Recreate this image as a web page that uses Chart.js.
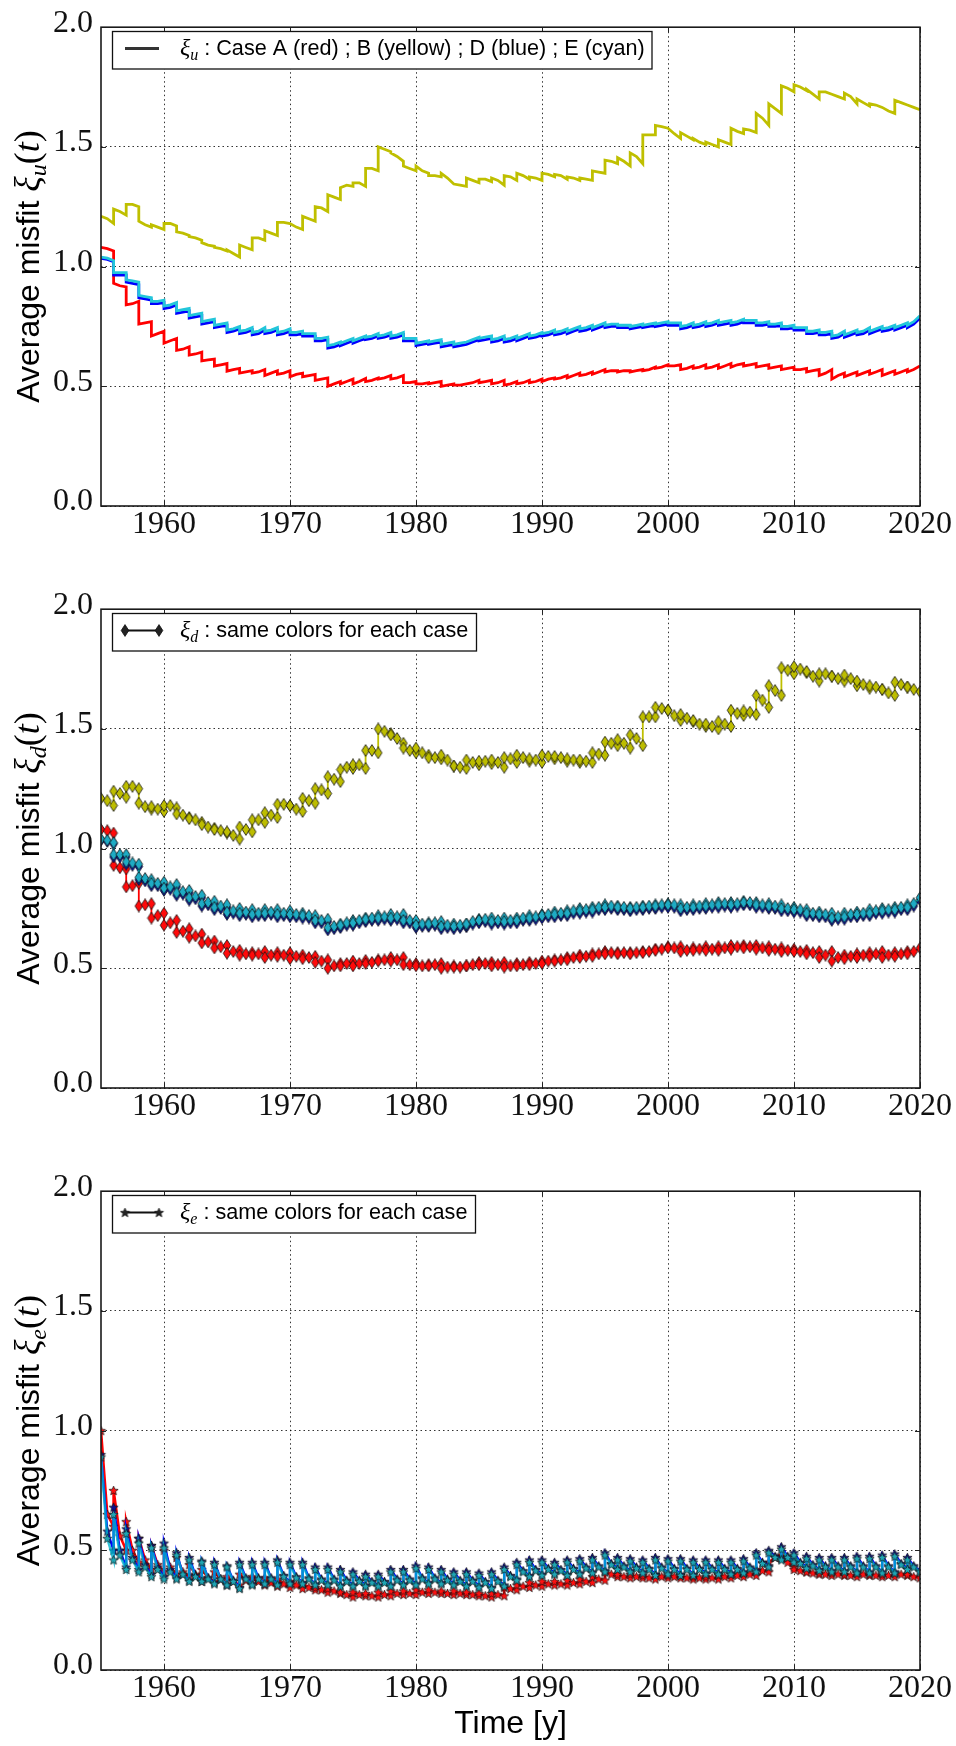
<!DOCTYPE html>
<html><head><meta charset="utf-8">
<script src="https://cdn.jsdelivr.net/npm/chart.js"></script>
<style>
html,body{margin:0;padding:0;background:#fff;}
#wrap{position:relative;width:956px;height:1746px;background:#fff;}
canvas{position:absolute;left:0;}
</style></head><body>
<div id="wrap">
<canvas id="c1" width="956" height="582" style="top:0px"></canvas>
<canvas id="c2" width="956" height="582" style="top:582px"></canvas>
<canvas id="c3" width="956" height="582" style="top:1164px"></canvas>
</div>
<script>
// ---------------- DATA ----------------
const analysisYears = [1955,1956,1957,1958,1959,1960,1961,1962,1963,1964,1965,1966,1967,1968,1969,1970,1971,1972,1973,1974,1975,1976,1977,1978,1979,1980,1981,1982,1983,1984,1985,1986,1987,1988,1989,1990,1991,1992,1993,1994,1995,1996,1997,1998,1999,2000,2001,2002,2003,2004,2005,2006,2007,2008,2009,2010,2011,2012,2013,2014,2015,2016,2017,2018,2019,2020];
const xTickValues = [1960,1970,1980,1990,2000,2010,2020];
const yTickValues = [0,0.5,1.0,1.5,2.0];

// Each series: per year 1955..2019 -> [after analysis, mid-year, just before next analysis]
// xi_u (also read identical for xi_d)
const xiU_A = [
1.08,1.075,1.065, 0.93,0.92,0.915, 0.84,0.845,0.855, 0.76,0.765,0.77, 0.71,0.72,0.73,
0.68,0.69,0.70, 0.65,0.655,0.665, 0.63,0.635,0.643, 0.606,0.61,0.614, 0.585,0.59,0.595,
0.563,0.57,0.575, 0.555,0.56,0.565, 0.555,0.56,0.57, 0.545,0.555,0.565, 0.55,0.555,0.565,
0.54,0.55,0.555, 0.54,0.545,0.55, 0.525,0.53,0.535, 0.50,0.51,0.52, 0.51,0.52,0.53,
0.51,0.52,0.533, 0.52,0.525,0.535, 0.53,0.535,0.545, 0.53,0.535,0.545, 0.515,0.515,0.52,
0.51,0.51,0.515, 0.51,0.515,0.52, 0.50,0.505,0.51, 0.505,0.505,0.51, 0.51,0.515,0.525,
0.515,0.52,0.525, 0.51,0.515,0.525, 0.505,0.51,0.52, 0.51,0.515,0.525, 0.515,0.52,0.53,
0.52,0.53,0.535, 0.53,0.535,0.545, 0.535,0.545,0.555, 0.545,0.55,0.56, 0.55,0.56,0.57,
0.56,0.565,0.565, 0.56,0.565,0.565, 0.56,0.565,0.57, 0.565,0.57,0.58, 0.575,0.58,0.59,
0.585,0.585,0.59, 0.57,0.575,0.585, 0.575,0.58,0.59, 0.575,0.58,0.59, 0.575,0.585,0.595,
0.58,0.59,0.595, 0.585,0.59,0.595, 0.58,0.585,0.59, 0.575,0.58,0.585, 0.57,0.575,0.58,
0.57,0.57,0.575, 0.56,0.565,0.57, 0.545,0.555,0.57, 0.53,0.545,0.555, 0.54,0.55,0.56,
0.545,0.555,0.565, 0.55,0.56,0.57, 0.545,0.555,0.565, 0.55,0.56,0.57, 0.56,0.57,0.585];

const xiU_B = [
1.21,1.20,1.18, 1.24,1.23,1.215, 1.26,1.26,1.25, 1.19,1.175,1.165, 1.175,1.165,1.155,
1.18,1.18,1.17, 1.145,1.14,1.13, 1.125,1.12,1.11, 1.10,1.09,1.085, 1.08,1.075,1.065,
1.07,1.055,1.04, 1.09,1.08,1.07, 1.12,1.12,1.11, 1.15,1.14,1.13, 1.185,1.185,1.18,
1.18,1.165,1.155, 1.21,1.20,1.19, 1.25,1.245,1.23, 1.30,1.29,1.28, 1.33,1.34,1.335,
1.35,1.35,1.335, 1.41,1.41,1.40, 1.50,1.49,1.48, 1.475,1.46,1.44, 1.42,1.41,1.40,
1.42,1.40,1.39, 1.38,1.38,1.375, 1.39,1.37,1.345, 1.345,1.34,1.335, 1.37,1.36,1.35,
1.365,1.365,1.355, 1.37,1.36,1.34, 1.38,1.375,1.36, 1.39,1.38,1.365, 1.375,1.37,1.36,
1.39,1.385,1.375, 1.385,1.38,1.365, 1.375,1.37,1.36, 1.37,1.365,1.36, 1.40,1.395,1.39,
1.445,1.44,1.43, 1.455,1.44,1.42, 1.475,1.46,1.43, 1.55,1.55,1.55, 1.59,1.585,1.578,
1.578,1.555,1.535, 1.56,1.545,1.53, 1.535,1.52,1.51, 1.52,1.51,1.50, 1.53,1.52,1.51,
1.578,1.565,1.556, 1.575,1.57,1.56, 1.64,1.62,1.59, 1.68,1.66,1.64, 1.755,1.745,1.73,
1.76,1.75,1.735, 1.74,1.72,1.70, 1.73,1.73,1.72, 1.72,1.71,1.70, 1.725,1.71,1.68,
1.70,1.685,1.67, 1.68,1.675,1.665, 1.665,1.65,1.64, 1.695,1.685,1.675, 1.675,1.665,1.655];

const xiU_D = [
1.035,1.03,1.02, 0.965,0.965,0.965, 0.935,0.93,0.925, 0.87,0.865,0.86, 0.845,0.845,0.85,
0.825,0.83,0.84, 0.805,0.81,0.815, 0.785,0.79,0.795, 0.76,0.765,0.77, 0.745,0.75,0.755,
0.725,0.73,0.74, 0.72,0.725,0.735, 0.715,0.72,0.735, 0.72,0.725,0.735, 0.715,0.72,0.73,
0.715,0.715,0.72, 0.71,0.71,0.71, 0.69,0.69,0.695, 0.66,0.665,0.675, 0.67,0.68,0.69,
0.68,0.69,0.70, 0.695,0.70,0.71, 0.70,0.705,0.715, 0.70,0.705,0.715, 0.69,0.69,0.69,
0.67,0.675,0.68, 0.675,0.68,0.685, 0.665,0.67,0.675, 0.665,0.67,0.675, 0.675,0.685,0.695,
0.69,0.695,0.70, 0.685,0.69,0.70, 0.685,0.69,0.70, 0.69,0.70,0.71, 0.70,0.705,0.715,
0.71,0.715,0.725, 0.715,0.72,0.73, 0.72,0.73,0.74, 0.73,0.735,0.745, 0.735,0.745,0.755,
0.745,0.75,0.75, 0.745,0.745,0.745, 0.74,0.745,0.75, 0.745,0.75,0.755, 0.75,0.755,0.76,
0.755,0.755,0.755, 0.74,0.745,0.755, 0.745,0.75,0.76, 0.75,0.755,0.765, 0.755,0.76,0.765,
0.755,0.76,0.77, 0.765,0.765,0.765, 0.755,0.755,0.76, 0.75,0.75,0.755, 0.74,0.74,0.745,
0.735,0.735,0.735, 0.72,0.72,0.725, 0.715,0.715,0.72, 0.70,0.705,0.72, 0.705,0.715,0.725,
0.715,0.72,0.735, 0.72,0.73,0.74, 0.73,0.735,0.745, 0.735,0.745,0.755, 0.745,0.76,0.785];

const xiU_E = [
1.04,1.035,1.025, 0.975,0.975,0.975, 0.945,0.94,0.935, 0.88,0.875,0.87, 0.855,0.855,0.86,
0.835,0.84,0.85, 0.815,0.82,0.825, 0.795,0.80,0.805, 0.77,0.775,0.78, 0.755,0.76,0.765,
0.735,0.74,0.75, 0.73,0.735,0.745, 0.725,0.73,0.745, 0.73,0.735,0.745, 0.725,0.73,0.74,
0.725,0.725,0.73, 0.72,0.72,0.72, 0.70,0.70,0.705, 0.67,0.675,0.685, 0.68,0.69,0.70,
0.69,0.70,0.71, 0.705,0.71,0.72, 0.71,0.715,0.725, 0.71,0.715,0.725, 0.70,0.70,0.70,
0.68,0.685,0.69, 0.685,0.69,0.695, 0.675,0.68,0.685, 0.675,0.68,0.685, 0.685,0.695,0.705,
0.70,0.705,0.71, 0.695,0.70,0.71, 0.695,0.70,0.71, 0.70,0.71,0.72, 0.71,0.715,0.725,
0.72,0.725,0.735, 0.725,0.73,0.74, 0.73,0.74,0.75, 0.74,0.745,0.755, 0.745,0.755,0.765,
0.755,0.76,0.76, 0.755,0.755,0.755, 0.75,0.755,0.76, 0.755,0.76,0.765, 0.76,0.765,0.77,
0.765,0.765,0.765, 0.75,0.755,0.765, 0.755,0.76,0.77, 0.76,0.765,0.775, 0.765,0.77,0.775,
0.765,0.77,0.78, 0.775,0.775,0.775, 0.765,0.765,0.77, 0.76,0.76,0.765, 0.75,0.75,0.755,
0.745,0.745,0.745, 0.73,0.73,0.735, 0.725,0.725,0.73, 0.71,0.715,0.73, 0.715,0.725,0.735,
0.725,0.73,0.745, 0.73,0.74,0.75, 0.74,0.745,0.755, 0.745,0.755,0.765, 0.755,0.77,0.795];

// xi_e
const xiE_A = [
1.00,0.65,0.60, 0.75,0.56,0.50, 0.62,0.50,0.45, 0.55,0.46,0.42, 0.52,0.44,0.41,
0.50,0.43,0.40, 0.47,0.41,0.39, 0.44,0.40,0.38, 0.42,0.385,0.37, 0.41,0.38,0.36,
0.39,0.37,0.355, 0.40,0.375,0.36, 0.39,0.37,0.355, 0.385,0.365,0.35, 0.38,0.36,0.345,
0.37,0.355,0.34, 0.36,0.345,0.335, 0.345,0.335,0.325, 0.34,0.33,0.32, 0.325,0.315,0.305,
0.325,0.315,0.31, 0.32,0.31,0.305, 0.325,0.315,0.31, 0.33,0.32,0.315, 0.33,0.32,0.315,
0.335,0.325,0.32, 0.335,0.325,0.32, 0.33,0.32,0.315, 0.33,0.32,0.315, 0.325,0.315,0.31,
0.32,0.31,0.305, 0.32,0.315,0.31, 0.345,0.34,0.335, 0.355,0.35,0.345, 0.365,0.355,0.35,
0.37,0.36,0.355, 0.37,0.36,0.355, 0.375,0.365,0.36, 0.38,0.37,0.365, 0.39,0.38,0.375,
0.41,0.40,0.39, 0.40,0.39,0.385, 0.40,0.39,0.385, 0.395,0.385,0.38, 0.40,0.39,0.385,
0.395,0.39,0.385, 0.395,0.385,0.38, 0.39,0.385,0.38, 0.39,0.385,0.38, 0.395,0.39,0.385,
0.40,0.395,0.39, 0.405,0.40,0.395, 0.42,0.415,0.41, 0.45,0.47,0.48, 0.47,0.45,0.43,
0.42,0.415,0.41, 0.41,0.405,0.40, 0.405,0.40,0.395, 0.405,0.40,0.395, 0.40,0.395,0.39,
0.405,0.40,0.395, 0.40,0.395,0.39, 0.40,0.395,0.39, 0.405,0.40,0.395, 0.40,0.39,0.385];

const xiE_D = [
0.90,0.58,0.50, 0.68,0.50,0.43, 0.59,0.47,0.42, 0.55,0.44,0.40, 0.52,0.43,0.39,
0.53,0.42,0.385, 0.49,0.40,0.375, 0.47,0.395,0.37, 0.455,0.385,0.365, 0.45,0.38,0.355,
0.435,0.375,0.345, 0.45,0.385,0.36, 0.45,0.385,0.36, 0.45,0.385,0.36, 0.46,0.395,0.365,
0.45,0.39,0.365, 0.45,0.385,0.36, 0.43,0.38,0.36, 0.43,0.38,0.355, 0.42,0.375,0.355,
0.41,0.375,0.355, 0.40,0.37,0.355, 0.40,0.37,0.355, 0.42,0.38,0.36, 0.42,0.38,0.36,
0.435,0.385,0.365, 0.43,0.385,0.365, 0.42,0.38,0.36, 0.41,0.375,0.355, 0.41,0.375,0.35,
0.405,0.37,0.345, 0.41,0.375,0.355, 0.43,0.395,0.38, 0.45,0.415,0.395, 0.46,0.42,0.40,
0.46,0.425,0.405, 0.45,0.42,0.40, 0.46,0.425,0.405, 0.465,0.43,0.41, 0.47,0.435,0.415,
0.49,0.445,0.425, 0.47,0.435,0.415, 0.465,0.43,0.41, 0.46,0.425,0.40, 0.47,0.43,0.405,
0.465,0.425,0.40, 0.465,0.425,0.40, 0.46,0.425,0.405, 0.46,0.425,0.405, 0.46,0.425,0.405,
0.46,0.425,0.41, 0.465,0.43,0.415, 0.49,0.45,0.435, 0.50,0.475,0.465, 0.515,0.475,0.455,
0.49,0.45,0.43, 0.475,0.44,0.42, 0.47,0.435,0.415, 0.47,0.435,0.415, 0.47,0.435,0.41,
0.475,0.435,0.41, 0.475,0.435,0.41, 0.48,0.435,0.41, 0.485,0.445,0.425, 0.47,0.435,0.415];

const xiE_E = [
0.89,0.55,0.46, 0.65,0.48,0.42, 0.57,0.46,0.41, 0.53,0.43,0.39, 0.51,0.42,0.38,
0.51,0.41,0.38, 0.48,0.40,0.37, 0.46,0.39,0.37, 0.45,0.38,0.36, 0.44,0.38,0.355,
0.43,0.37,0.34, 0.44,0.38,0.355, 0.44,0.38,0.36, 0.44,0.38,0.355, 0.45,0.39,0.36,
0.44,0.385,0.36, 0.44,0.38,0.355, 0.42,0.375,0.355, 0.42,0.375,0.35, 0.41,0.37,0.35,
0.40,0.37,0.35, 0.39,0.365,0.35, 0.39,0.365,0.35, 0.41,0.375,0.355, 0.41,0.375,0.355,
0.425,0.38,0.36, 0.42,0.38,0.36, 0.41,0.375,0.355, 0.40,0.37,0.35, 0.40,0.37,0.345,
0.395,0.365,0.34, 0.40,0.37,0.35, 0.42,0.39,0.375, 0.44,0.41,0.39, 0.45,0.415,0.395,
0.45,0.42,0.40, 0.44,0.415,0.395, 0.45,0.42,0.40, 0.455,0.425,0.405, 0.46,0.43,0.41,
0.48,0.44,0.42, 0.46,0.43,0.41, 0.455,0.425,0.405, 0.45,0.42,0.395, 0.46,0.425,0.40,
0.455,0.42,0.395, 0.455,0.42,0.395, 0.45,0.42,0.40, 0.45,0.42,0.40, 0.45,0.42,0.40,
0.45,0.42,0.405, 0.455,0.425,0.41, 0.48,0.445,0.43, 0.49,0.47,0.46, 0.505,0.47,0.45,
0.48,0.445,0.425, 0.465,0.435,0.415, 0.46,0.43,0.41, 0.46,0.43,0.41, 0.46,0.43,0.405,
0.465,0.43,0.405, 0.465,0.43,0.405, 0.47,0.43,0.405, 0.475,0.44,0.42, 0.46,0.43,0.41];

// ---------------- HELPERS ----------------
function toPoints(vals){
  const pts=[];
  for(let i=0;i<analysisYears.length-1;i++){
    const t0=analysisYears[i], t1=analysisYears[i+1];
    pts.push({x:t0,y:vals[3*i]},{x:(t0+t1)/2,y:vals[3*i+1]},{x:t1,y:vals[3*i+2]});
  }
  return pts;
}
function diamondImg(fill){
  const c=document.createElement('canvas'); c.width=10; c.height=13;
  const g=c.getContext('2d');
  g.beginPath(); g.moveTo(5,0.6); g.lineTo(8.8,6.5); g.lineTo(5,12.4); g.lineTo(1.2,6.5); g.closePath();
  g.fillStyle=fill; g.fill(); g.lineWidth=0.8; g.strokeStyle='#111'; g.stroke();
  return c;
}
function starImg(fill){
  const s=11, R=4.8; const c=document.createElement('canvas'); c.width=s; c.height=s;
  const g=c.getContext('2d'); const cx=s/2, cy=s/2+0.4;
  g.beginPath();
  for(let k=0;k<10;k++){const r=(k%2)?R*0.45:R; const a=-Math.PI/2+k*Math.PI/5; g.lineTo(cx+r*Math.cos(a),cy+r*Math.sin(a));}
  g.closePath(); g.fillStyle=fill; g.fill(); g.lineWidth=0.7; g.strokeStyle='#111'; g.stroke();
  return c;
}
function drawRich(ctx, pieces, x, y, center){
  let w=0;
  pieces.forEach(p=>{ctx.font=p.font; p.w=ctx.measureText(p.t).width; w+=p.w + (p.gap||0);});
  let cx = center ? x - w/2 : x;
  pieces.forEach(p=>{ctx.font=p.font; ctx.fillText(p.t, cx, y+(p.dy||0)); cx+=p.w+(p.gap||0);});
}

const SERIF='"Liberation Serif", "Times New Roman", serif';
const SANS='"Liberation Sans", Arial, Helvetica, sans-serif';

const framePlugin = {
  id:'frame',
  afterDraw(chart){
    const o=chart.options.plugins.frame; const ctx=chart.ctx; const a=chart.chartArea;
    const xs=chart.scales.x, ys=chart.scales.y;
    ctx.save();
    // inward tick marks on all sides
    ctx.strokeStyle='#222'; ctx.lineWidth=1;
    ctx.beginPath();
    xTickValues.forEach(v=>{const p=Math.round(xs.getPixelForValue(v))+0.5; ctx.moveTo(p,a.bottom); ctx.lineTo(p,a.bottom-5); ctx.moveTo(p,a.top); ctx.lineTo(p,a.top+5);});
    yTickValues.forEach(v=>{const p=Math.round(ys.getPixelForValue(v))+0.5; ctx.moveTo(a.left,p); ctx.lineTo(a.left+5,p); ctx.moveTo(a.right,p); ctx.lineTo(a.right-5,p);});
    ctx.stroke();
    // frame
    ctx.lineWidth=1.6; ctx.strokeStyle='#1a1a1a';
    ctx.strokeRect(a.left,a.top,a.right-a.left,a.bottom-a.top);
    // legend box
    const lx=112.5, ly=31.5, lh=37.5;
    ctx.fillStyle='#fff'; ctx.fillRect(lx,ly,o.legendWidth,lh);
    ctx.lineWidth=1.3; ctx.strokeStyle='#111'; ctx.strokeRect(lx,ly,o.legendWidth,lh);
    ctx.strokeStyle=o.sampleColor; ctx.lineWidth=o.sampleWidth;
    ctx.beginPath(); ctx.moveTo(125,48.5); ctx.lineTo(159,48.5); ctx.stroke();
    if(o.sampleMarker){
      const m=o.sampleMarker;
      ctx.drawImage(m,125-m.width/2,48.5-m.height/2); ctx.drawImage(m,159-m.width/2,48.5-m.height/2);
    }
    ctx.fillStyle='#000'; ctx.textBaseline='alphabetic'; ctx.textAlign='left';
    drawRich(ctx,[
      {t:'\u03BE',font:'italic 24px '+SERIF},
      {t:o.sub,font:'italic 16px '+SERIF,dy:5},
      {t:' : '+o.legendText,font:'21.6px '+SANS}
    ],180,54.5,false);
    // y title
    ctx.save();
    ctx.translate(39,(a.top+a.bottom)/2); ctx.rotate(-Math.PI/2);
    drawRich(ctx,[
      {t:'Average misfit ',font:'32px '+SANS},
      {t:'\u03BE',font:'italic 36px '+SERIF},
      {t:o.sub,font:'italic 24px '+SERIF,dy:7},
      {t:'(',font:'36px '+SERIF},
      {t:'t',font:'italic 36px '+SERIF},
      {t:')',font:'36px '+SERIF}
    ],0,0,true);
    ctx.restore();
    if(o.xTitle){
      ctx.font='32px '+SANS; ctx.textAlign='center'; ctx.textBaseline='alphabetic';
      ctx.fillText(o.xTitle,(a.left+a.right)/2,568.5);
    }
    ctx.restore();
  }
};

function makeChart(id, datasets, frameOpts){
  const tickFont={family:'Liberation Serif',size:32};
  const grid={drawTicks:false,color:'rgba(0,0,0,0.8)',lineWidth:1};
  const border={display:false,dash:[1.5,3]};
  return new Chart(document.getElementById(id),{
    type:'line',
    data:{datasets},
    options:{
      responsive:false, animation:false, devicePixelRatio:1, events:[],
      layout:{padding:{top:20.5,right:36,left:0,bottom:0}},
      plugins:{legend:{display:false},tooltip:{enabled:false},frame:frameOpts},
      elements:{line:{tension:0}},
      scales:{
        x:{type:'linear',min:1955,max:2020,
           afterBuildTicks:s=>{s.ticks=xTickValues.map(v=>({value:v}));},
           afterFit:s=>{s.height=76;},
           ticks:{font:tickFont,color:'#111',padding:-1,maxRotation:0,autoSkip:false,callback:v=>String(v)},
           grid, border},
        y:{type:'linear',min:0,max:2,
           afterBuildTicks:s=>{s.ticks=yTickValues.map(v=>({value:v}));},
           afterFit:s=>{s.width=101;},
           ticks:{font:tickFont,color:'#111',padding:8,labelOffset:-4,callback:v=>Number(v).toFixed(1)},
           grid, border}
      }
    },
    plugins:[framePlugin]
  });
}

const RED='#ff0000', YEL='#bfbf00', BLUE='#0000ff', CYAN='#22c6da';

// Panel 1: xi_u lines
makeChart('c1',[
  {data:toPoints(xiU_A),borderColor:RED,borderWidth:2.8,pointRadius:0,order:4,clip:0},
  {data:toPoints(xiU_B),borderColor:YEL,borderWidth:2.8,pointRadius:0,order:3,clip:0},
  {data:toPoints(xiU_D),borderColor:BLUE,borderWidth:2.8,pointRadius:0,order:2,clip:0},
  {data:toPoints(xiU_E),borderColor:CYAN,borderWidth:2.8,pointRadius:0,order:1,clip:0}
],{sub:'u',legendWidth:539.5,legendText:'Case A (red) ; B (yellow) ; D (blue) ; E (cyan)',sampleColor:'#333',sampleWidth:3});

// Panel 2: xi_d with thin diamonds
makeChart('c2',[
  {data:toPoints(xiU_A),borderColor:RED,borderWidth:1.8,pointStyle:diamondImg('#ff0a0a'),pointRadius:4,order:4,clip:0},
  {data:toPoints(xiU_B),borderColor:YEL,borderWidth:1.8,pointStyle:diamondImg('#bdbd00'),pointRadius:4,order:3,clip:0},
  {data:toPoints(xiU_D),borderColor:BLUE,borderWidth:1.8,pointStyle:diamondImg('#0a14b4'),pointRadius:4,order:2,clip:0},
  {data:toPoints(xiU_E),borderColor:'#00bfbf',borderWidth:1.8,pointStyle:diamondImg('#1eabc4'),pointRadius:4,order:1,clip:0}
],{sub:'d',legendWidth:364,legendText:'same colors for each case',sampleColor:'#111',sampleWidth:2,sampleMarker:diamondImg('#222')});

// Panel 3: xi_e with stars
makeChart('c3',[
  {data:toPoints(xiE_A),borderColor:RED,borderWidth:2.6,pointStyle:starImg('#ff1010'),pointRadius:4,order:3,clip:0},
  {data:toPoints(xiE_D),borderColor:BLUE,borderWidth:2.4,pointStyle:starImg('#101090'),pointRadius:4,order:2,clip:0},
  {data:toPoints(xiE_E),borderColor:'rgba(0,180,205,0.8)',borderWidth:2.6,pointStyle:starImg('#1fa6b4'),pointRadius:4,order:1,clip:0}
],{sub:'e',legendWidth:363,legendText:'same colors for each case',sampleColor:'#111',sampleWidth:2,sampleMarker:starImg('#222'),xTitle:'Time [y]'});
</script>
</body></html>
